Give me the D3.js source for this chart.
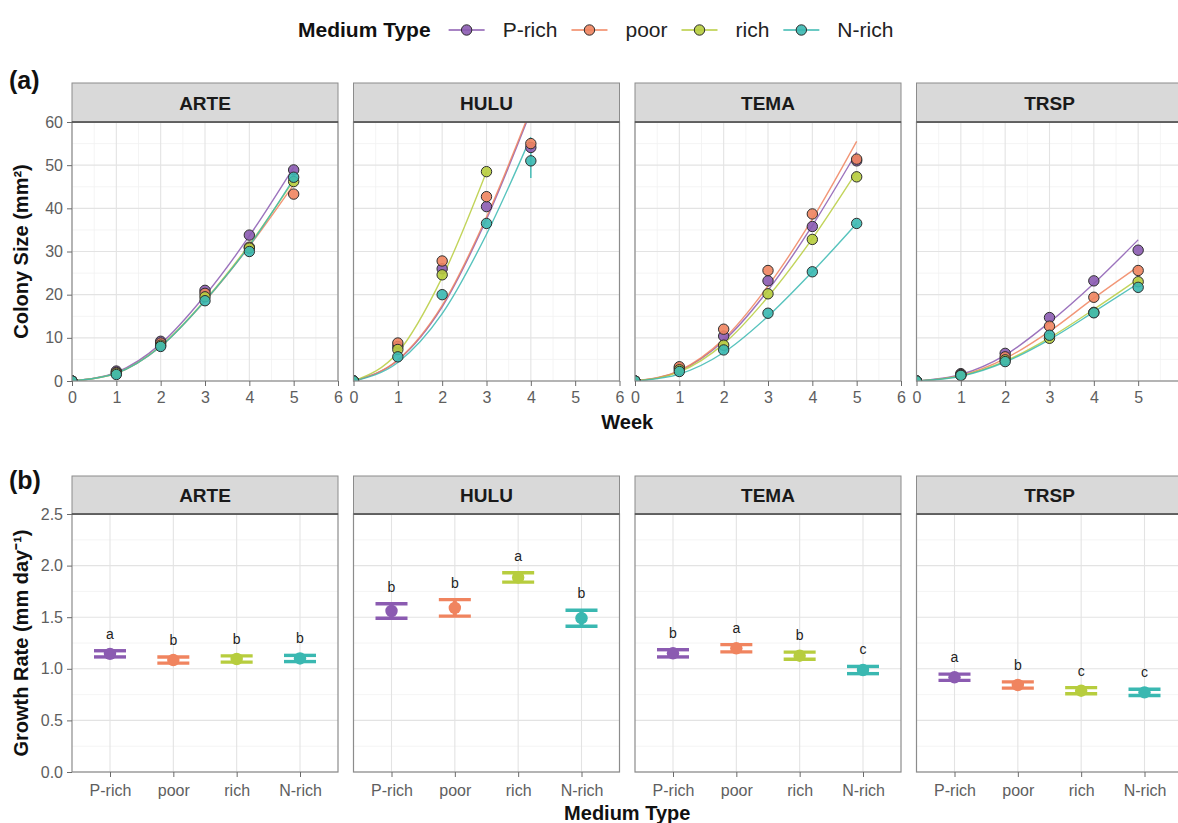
<!DOCTYPE html>
<html>
<head>
<meta charset="utf-8">
<script src="https://cdn.jsdelivr.net/npm/d3@7"></script>
<style>
  body { margin: 0; background: #fff; }
  text { font-family: "Liberation Sans", Arial, sans-serif; }
</style>
</head>
<body>
<svg id="chart" width="1178" height="823"></svg>
<script>
// ---- data ----
const species = ["ARTE", "HULU", "TEMA", "TRSP"];
const media = ["P-rich", "poor", "rich", "N-rich"];
const weeks = [0, 1, 2, 3, 4, 5];
const mediaColors = ["#8B5BB1", "#F0845F", "#B7CD3E", "#3AB8B1"];

// observed mean colony size (mm2) per week, rows follow `media`
const arteObs = [
  [0, 2.3, 9.2, 21.0, 33.8, 48.9],
  [0, 2.0, 8.8, 20.3, 31.0, 43.3],
  [0, 1.8, 8.3, 19.5, 30.8, 46.2],
  [0, 1.5, 8.0, 18.6, 30.0, 47.2]
];
const huluObs = [
  [0, 8.0, 26.0, 40.4, 54.1, null],
  [0, 8.8, 27.8, 42.7, 55.0, null],
  [0, 7.3, 24.6, 48.5, null, null],
  [0, 5.6, 20.0, 36.5, 51.0, null]
];
const temaObs = [
  [0, 3.0, 10.4, 23.2, 35.8, 51.0],
  [0, 3.3, 12.0, 25.6, 38.7, 51.4],
  [0, 2.6, 8.3, 20.2, 32.8, 47.3],
  [0, 2.2, 7.2, 15.7, 25.3, 36.5]
];
const trspObs = [
  [0, 1.7, 6.4, 14.7, 23.2, 30.3],
  [0, 1.5, 5.6, 12.7, 19.4, 25.6],
  [0, 1.3, 4.9, 9.9, 15.9, 23.0],
  [0, 1.3, 4.5, 10.6, 15.8, 21.7]
];

// fitted growth curves at each week
const arteFit = [
  [0, 2.0, 8.6, 19.8, 33.6, 49.5],
  [0, 1.8, 8.0, 18.5, 31.2, 45.5],
  [0, 1.8, 8.1, 18.7, 31.6, 46.5],
  [0, 1.8, 8.0, 18.6, 31.3, 46.8]
];
const huluFit = [
  [0, 4.8, 17.2, 37.5, 62.5, null],
  [0, 4.9, 17.5, 38.0, 63.0, null],
  [0, 6.6, 24.0, 48.5, null, null],
  [0, 4.3, 15.6, 34.0, 56.5, null]
];
const temaFit = [
  [0, 2.3, 9.3, 21.0, 36.0, 53.0],
  [0, 2.4, 9.7, 22.0, 37.5, 55.5],
  [0, 2.1, 8.6, 19.5, 33.0, 48.5],
  [0, 1.6, 6.6, 15.0, 25.3, 36.5]
];
const trspFit = [
  [0, 1.5, 6.0, 13.6, 22.6, 32.7],
  [0, 1.3, 5.2, 11.5, 19.2, 26.5],
  [0, 1.2, 4.6, 10.0, 16.6, 23.6],
  [0, 1.1, 4.4, 9.6, 16.0, 22.6]
];
// error bars large enough to show outside the points
const sizeErrors = [
  { sp: "HULU", medium: "N-rich", week: 4, se: 4.0 }
];

// growth rate (mm day-1), mean and SE, order follows `media`
const arteRate = [1.145, 1.085, 1.095, 1.100];
const arteSE   = [0.03, 0.03, 0.03, 0.03];
const huluRate = [1.560, 1.590, 1.885, 1.490];
const huluSE   = [0.070, 0.080, 0.045, 0.078];
const temaRate = [1.150, 1.199, 1.127, 0.988];
const temaSE   = [0.035, 0.035, 0.035, 0.035];
const trspRate = [0.918, 0.843, 0.788, 0.772];
const trspSE   = [0.03, 0.03, 0.03, 0.03];
const arteLetters = ["a", "b", "b", "b"];
const huluLetters = ["b", "b", "a", "b"];
const temaLetters = ["b", "a", "b", "c"];
const trspLetters = ["a", "b", "c", "c"];

const sizeTicks = [0, 10, 20, 30, 40, 50, 60];
const weekTicks = [0, 1, 2, 3, 4, 5, 6];
const rateTicks = [0, 0.5, 1.0, 1.5, 2.0, 2.5];

const obsBySp = [arteObs, huluObs, temaObs, trspObs];
const fitBySp = [arteFit, huluFit, temaFit, trspFit];
const rateBySp = [arteRate, huluRate, temaRate, trspRate];
const seBySp = [arteSE, huluSE, temaSE, trspSE];
const lettersBySp = [arteLetters, huluLetters, temaLetters, trspLetters];

// ---- layout ----
const svg = d3.select("#chart");
svg.append("rect").attr("width", 1178).attr("height", 823).attr("fill", "#fff");

const pw = 266, gap = 15.5, left0 = 72;
const panelX = i => left0 + i * (pw + gap);
const layA = { stripTop: 83, plotTop: 122, plotBottom: 381 };
const layB = { stripTop: 476, plotTop: 514, plotBottom: 772 };

const yA = d3.scaleLinear().domain([0, 60]).range([layA.plotBottom, layA.plotTop]);
const yB = d3.scaleLinear().domain([0, 2.5]).range([layB.plotBottom, layB.plotTop]);

const majorGrid = "#E3E3E3", minorGrid = "#F1F1F1", borderCol = "#8C8C8C", tickCol = "#6B6B6B", tickTxt = "#5E5E5E";

function styleAxis(g) {
  g.select(".domain").remove();
  g.selectAll(".tick line").attr("stroke", tickCol).attr("stroke-width", 1);
  g.selectAll(".tick text").attr("fill", tickTxt).attr("font-size", 16)
    .style("font-family", "'Liberation Sans', Arial, sans-serif");
}

function drawStrip(x0, lay, name) {
  svg.append("rect")
    .attr("x", x0).attr("y", lay.stripTop)
    .attr("width", pw).attr("height", lay.plotTop - lay.stripTop)
    .attr("fill", "#D9D9D9").attr("stroke", borderCol).attr("stroke-width", 1);
  svg.append("line")
    .attr("x1", x0).attr("x2", x0 + pw)
    .attr("y1", lay.plotTop).attr("y2", lay.plotTop)
    .attr("stroke", "#4A4A4A").attr("stroke-width", 1.6);
  svg.append("text")
    .attr("x", x0 + pw / 2).attr("y", (lay.stripTop + lay.plotTop) / 2 + 7)
    .attr("text-anchor", "middle").attr("font-size", 19).attr("font-weight", "bold")
    .attr("fill", "#1A1A1A").text(name);
}

function drawBorder(x0, lay) {
  svg.append("rect")
    .attr("x", x0).attr("y", lay.plotTop)
    .attr("width", pw).attr("height", lay.plotBottom - lay.plotTop)
    .attr("fill", "none").attr("stroke", borderCol).attr("stroke-width", 1.2);
}

function addClip(id, x0, lay) {
  svg.append("clipPath").attr("id", id).append("rect")
    .attr("x", x0).attr("y", lay.plotTop)
    .attr("width", pw).attr("height", lay.plotBottom - lay.plotTop);
}

// ---- (a) colony size ----
species.forEach((sp, i) => {
  const x0 = panelX(i);
  const x = d3.scaleLinear().domain([0, 6]).range([x0, x0 + pw]);
  const grid = svg.append("g");

  grid.selectAll("line.vminor").data(d3.range(0.5, 6, 1)).join("line")
    .attr("x1", d => x(d)).attr("x2", d => x(d))
    .attr("y1", layA.plotTop).attr("y2", layA.plotBottom)
    .attr("stroke", minorGrid).attr("stroke-width", 0.8);
  grid.selectAll("line.hminor").data(d3.range(5, 60, 10)).join("line")
    .attr("x1", x0).attr("x2", x0 + pw)
    .attr("y1", d => yA(d)).attr("y2", d => yA(d))
    .attr("stroke", minorGrid).attr("stroke-width", 0.8);
  grid.selectAll("line.vmajor").data(weekTicks).join("line")
    .attr("x1", d => x(d)).attr("x2", d => x(d))
    .attr("y1", layA.plotTop).attr("y2", layA.plotBottom)
    .attr("stroke", majorGrid).attr("stroke-width", 1.1);
  grid.selectAll("line.hmajor").data(sizeTicks).join("line")
    .attr("x1", x0).attr("x2", x0 + pw)
    .attr("y1", d => yA(d)).attr("y2", d => yA(d))
    .attr("stroke", majorGrid).attr("stroke-width", 1.1);

  const clipId = "clipA" + i;
  addClip(clipId, x0, layA);
  const g = svg.append("g").attr("clip-path", `url(#${clipId})`);

  const line = d3.line()
    .x(d => x(d[0])).y(d => yA(d[1]))
    .curve(d3.curveMonotoneX);

  fitBySp[i].forEach((fit, j) => {
    g.append("path")
      .datum(weeks.map((w, k) => [w, fit[k]]).filter(d => d[1] != null))
      .attr("d", line)
      .attr("fill", "none")
      .attr("stroke", mediaColors[j])
      .attr("stroke-width", 1.4)
      .attr("stroke-opacity", 0.85);
  });

  sizeErrors.filter(e => e.sp === sp).forEach(e => {
    const j = media.indexOf(e.medium);
    const v = obsBySp[i][j][e.week];
    g.append("line")
      .attr("x1", x(e.week)).attr("x2", x(e.week))
      .attr("y1", yA(v - e.se)).attr("y2", yA(v + e.se))
      .attr("stroke", mediaColors[j]).attr("stroke-width", 1.4);
  });

  obsBySp[i].forEach((obs, j) => {
    g.selectAll(null)
      .data(weeks.map((w, k) => [w, obs[k]]).filter(d => d[1] != null))
      .join("circle")
      .attr("cx", d => x(d[0]))
      .attr("cy", d => yA(d[1]))
      .attr("r", 5.2)
      .attr("fill", mediaColors[j])
      .attr("fill-opacity", 0.9)
      .attr("stroke", "#2E2E2E")
      .attr("stroke-width", 1);
  });

  drawBorder(x0, layA);
  drawStrip(x0, layA, sp);

  svg.append("g")
    .attr("transform", `translate(0,${layA.plotBottom})`)
    .call(d3.axisBottom(x).tickValues(weekTicks).tickFormat(d3.format("d")).tickSize(5).tickPadding(6))
    .call(styleAxis);

  if (i === 0) {
    svg.append("g")
      .attr("transform", `translate(${x0},0)`)
      .call(d3.axisLeft(yA).tickValues(sizeTicks).tickSize(5).tickPadding(4))
      .call(styleAxis);
  }
});

// ---- (b) growth rate ----
species.forEach((sp, i) => {
  const x0 = panelX(i);
  const x = d3.scalePoint().domain(media).range([x0, x0 + pw]).padding(0.6);
  const grid = svg.append("g");

  grid.selectAll("line.hminor").data(d3.range(0.25, 2.5, 0.5)).join("line")
    .attr("x1", x0).attr("x2", x0 + pw)
    .attr("y1", d => yB(d)).attr("y2", d => yB(d))
    .attr("stroke", minorGrid).attr("stroke-width", 0.8);
  grid.selectAll("line.hmajor").data(rateTicks).join("line")
    .attr("x1", x0).attr("x2", x0 + pw)
    .attr("y1", d => yB(d)).attr("y2", d => yB(d))
    .attr("stroke", majorGrid).attr("stroke-width", 1.1);
  grid.selectAll("line.vmajor").data(media).join("line")
    .attr("x1", d => x(d)).attr("x2", d => x(d))
    .attr("y1", layB.plotTop).attr("y2", layB.plotBottom)
    .attr("stroke", majorGrid).attr("stroke-width", 1.1);

  const clipId = "clipB" + i;
  addClip(clipId, x0, layB);
  const g = svg.append("g").attr("clip-path", `url(#${clipId})`);

  const rows = media.map((m, j) => ({
    m, mean: rateBySp[i][j], se: seBySp[i][j], letter: lettersBySp[i][j], color: mediaColors[j]
  }));

  const capW = 16;
  rows.forEach(d => {
    const cx = x(d.m);
    const lo = yB(d.mean - d.se), hi = yB(d.mean + d.se);
    g.append("line").attr("x1", cx).attr("x2", cx).attr("y1", lo).attr("y2", hi)
      .attr("stroke", d.color).attr("stroke-width", 4);
    [lo, hi].forEach(yy => {
      g.append("line").attr("x1", cx - capW).attr("x2", cx + capW).attr("y1", yy).attr("y2", yy)
        .attr("stroke", d.color).attr("stroke-width", 3.4);
    });
    g.append("circle").attr("cx", cx).attr("cy", yB(d.mean)).attr("r", 6.2).attr("fill", d.color);
    g.append("text").attr("x", cx).attr("y", hi - 12)
      .attr("text-anchor", "middle").attr("font-size", 14).attr("fill", "#222")
      .text(d.letter);
  });

  drawBorder(x0, layB);
  drawStrip(x0, layB, sp);

  svg.append("g")
    .attr("transform", `translate(0,${layB.plotBottom})`)
    .call(d3.axisBottom(x).tickSize(5).tickPadding(8))
    .call(styleAxis);

  if (i === 0) {
    svg.append("g")
      .attr("transform", `translate(${x0},0)`)
      .call(d3.axisLeft(yB).tickValues(rateTicks).tickFormat(d3.format(".1f")).tickSize(5).tickPadding(4))
      .call(styleAxis);
  }
});

// ---- titles ----
const midX = (panelX(0) + panelX(3) + pw) / 2;
svg.append("text").attr("x", midX).attr("y", 429).attr("text-anchor", "middle")
  .attr("font-size", 20).attr("font-weight", "bold").attr("fill", "#111").text("Week");
svg.append("text").attr("x", midX).attr("y", 820).attr("text-anchor", "middle")
  .attr("font-size", 20).attr("font-weight", "bold").attr("fill", "#111").text("Medium Type");

svg.append("text")
  .attr("transform", `translate(28,${(layA.plotTop + layA.plotBottom) / 2}) rotate(-90)`)
  .attr("text-anchor", "middle").attr("font-size", 20).attr("font-weight", "bold").attr("fill", "#111")
  .text("Colony Size (mm²)");
svg.append("text")
  .attr("transform", `translate(28,${(layB.plotTop + layB.plotBottom) / 2}) rotate(-90)`)
  .attr("text-anchor", "middle").attr("font-size", 20).attr("font-weight", "bold").attr("fill", "#111")
  .text("Growth Rate (mm day⁻¹)");

svg.append("text").attr("x", 9).attr("y", 89).attr("font-size", 25).attr("font-weight", "bold")
  .attr("fill", "#111").text("(a)");
svg.append("text").attr("x", 9).attr("y", 489).attr("font-size", 25).attr("font-weight", "bold")
  .attr("fill", "#111").text("(b)");

// ---- legend ----
const legend = svg.append("g");
const legY = 30;
const legTitle = legend.append("text").attr("x", 298).attr("y", legY + 7)
  .attr("font-size", 21).attr("font-weight", "bold").attr("fill", "#111").text("Medium Type");
let lx = 298 + legTitle.node().getComputedTextLength() + 18;
media.forEach((m, j) => {
  legend.append("line").attr("x1", lx).attr("x2", lx + 36).attr("y1", legY).attr("y2", legY)
    .attr("stroke", mediaColors[j]).attr("stroke-width", 1.6);
  legend.append("circle").attr("cx", lx + 18).attr("cy", legY).attr("r", 5.2)
    .attr("fill", mediaColors[j]).attr("fill-opacity", 0.9).attr("stroke", "#2E2E2E").attr("stroke-width", 1);
  const t = legend.append("text").attr("x", lx + 54).attr("y", legY + 7)
    .attr("font-size", 21).attr("fill", "#222").text(m);
  lx = lx + 54 + t.node().getComputedTextLength() + 14;
});
</script>
</body>
</html>
